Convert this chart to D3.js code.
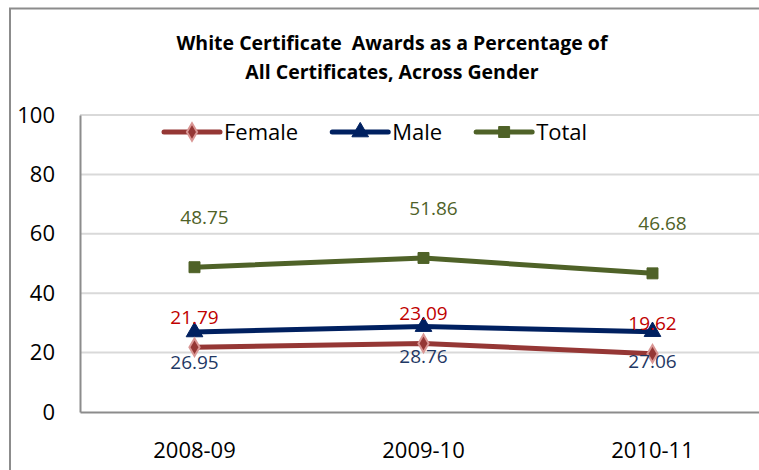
<!DOCTYPE html>
<html>
<head>
<meta charset="utf-8">
<script src="https://cdn.jsdelivr.net/npm/d3@7"></script>
<style>
  body { margin: 0; background: #fff; }
  svg { display: block; font-family: "Open Sans", "Liberation Sans", sans-serif; }
</style>
</head>
<body>
<div id="chart"></div>
<script>
/* CONSTANTS AND GLOBALS */
const width = 759,
      height = 470,
      margin = {top: 115, bottom: 58, left: 80, right: -8};

/* DATA */
const years = ["2008-09", "2009-10", "2010-11"];
const female = [21.79, 23.09, 19.62];
const male = [26.95, 28.76, 27.06];
const total = [48.75, 51.86, 46.68];
const yTicks = [0, 20, 40, 60, 80, 100];
const titleLines = ["White Certificate  Awards as a Percentage of", "All Certificates, Across Gender"];

const series = [
  {name: "Female", values: female, color: "#953735", marker: "diamond", label: "#c00000", labelDx: 0, labelDy: -30},
  {name: "Male", values: male, color: "#002060", marker: "triangle", label: "#1f3864", labelDx: 0, labelDy: 30},
  {name: "Total", values: total, color: "#4f6228", marker: "square", label: "#4f6228", labelDx: 10, labelDy: -50}
];

/* APPEND SVG */
const svg = d3.select("#chart")
  .append("svg")
    .attr("width", width)
    .attr("height", height);

// outer chart frame (runs off the right / bottom edge)
svg.append("rect")
  .attr("x", 10)
  .attr("y", 8.5)
  .attr("width", 800)
  .attr("height", 500)
  .attr("fill", "#fff")
  .attr("stroke", "#8c8c8c")
  .attr("stroke-width", 2);

/* SCALES */
const xScale = d3.scaleBand()
  .domain(years)
  .range([margin.left, width - margin.right])
  .padding(0);

const yScale = d3.scaleLinear()
  .domain([0, 100])
  .range([height - margin.bottom, margin.top]);

const xPos = d => xScale(d) + xScale.bandwidth() / 2;

/* GRIDLINES */
svg.append("g")
  .selectAll("line")
  .data(yTicks.filter(d => d > 0))
  .join("line")
    .attr("x1", margin.left)
    .attr("x2", width)
    .attr("y1", d => yScale(d))
    .attr("y2", d => yScale(d))
    .attr("stroke", "#d9d9d9")
    .attr("stroke-width", 2);

/* AXES */
const yAxis = svg.append("g")
  .attr("transform", `translate(${margin.left},0)`)
  .call(d3.axisLeft(yScale).tickValues(yTicks).tickSize(0).tickPadding(25))
  .style("font-size", "22px")
  .style("font-family", "'Open Sans', sans-serif");
yAxis.select(".domain").attr("stroke", "#8c8c8c").attr("stroke-width", 2);
yAxis.selectAll("text").attr("fill", "#000");

const xAxis = svg.append("g")
  .attr("transform", `translate(0,${yScale(0)})`)
  .call(d3.axisBottom(xScale).tickSize(0).tickPadding(30))
  .style("font-size", "22px")
  .style("font-family", "'Open Sans', sans-serif");
xAxis.select(".domain").attr("stroke", "#8c8c8c").attr("stroke-width", 2);
xAxis.selectAll("text").attr("fill", "#000");

/* MARKERS */
const symbolFor = {
  diamond: d3.symbol().type(d3.symbolDiamond).size(90),
  triangle: d3.symbol().type(d3.symbolTriangle).size(120),
  square: d3.symbol().type(d3.symbolSquare).size(120)
};

function drawMarker(sel, s) {
  sel.attr("d", symbolFor[s.marker]())
    .attr("fill", s.color)
    .attr("stroke", s.marker === "diamond" ? "#d99694" : s.color)
    .attr("stroke-width", s.marker === "diamond" ? 2 : 1);
}

/* LINES */
const line = d3.line()
  .x((d, i) => xPos(years[i]))
  .y(d => yScale(d));

// draw order: Total, Male, Female on top
const drawOrder = [series[2], series[1], series[0]];
drawOrder.forEach(s => {
  const g = svg.append("g");
  g.append("path")
    .datum(s.values)
    .attr("d", line)
    .attr("fill", "none")
    .attr("stroke", s.color)
    .attr("stroke-width", 5)
    .attr("stroke-linejoin", "round");
  g.selectAll("path.marker")
    .data(s.values)
    .join("path")
      .attr("class", "marker")
      .attr("transform", (d, i) => `translate(${xPos(years[i])},${yScale(d)})`)
      .call(drawMarker, s);
});

/* DATA LABELS */
series.forEach(s => {
  svg.append("g")
    .selectAll("text")
    .data(s.values)
    .join("text")
      .attr("x", (d, i) => xPos(years[i]) + s.labelDx)
      .attr("y", d => yScale(d) + s.labelDy)
      .attr("dy", "0.35em")
      .attr("text-anchor", "middle")
      .style("font-size", "19px")
      .attr("fill", s.label)
      .text(d => d.toFixed(2));
});

/* LEGEND */
const legend = svg.append("g").attr("transform", "translate(0,132)");
let lx = 164;
series.forEach(s => {
  const item = legend.append("g").attr("transform", `translate(${lx},0)`);
  item.append("line")
    .attr("x1", 0).attr("x2", 56)
    .attr("stroke", s.color)
    .attr("stroke-width", 5)
    .attr("stroke-linecap", "round");
  item.append("path")
    .attr("transform", "translate(28,0)")
    .call(drawMarker, s);
  const t = item.append("text")
    .attr("x", 60)
    .attr("dy", "0.35em")
    .style("font-size", "22px")
    .attr("fill", "#000")
    .text(s.name);
  lx += 60 + t.node().getComputedTextLength() + 34;
});

/* TITLE */
svg.append("text")
  .attr("x", 392)
  .attr("y", 50)
  .attr("text-anchor", "middle")
  .attr("xml:space", "preserve")
  .style("white-space", "pre")
  .style("font-size", "19.5px")
  .style("font-weight", "bold")
  .selectAll("tspan")
  .data(titleLines)
  .join("tspan")
    .attr("x", 392)
    .attr("y", (d, i) => 50 + i * 29)
    .text(d => d);
</script>
</body>
</html>
